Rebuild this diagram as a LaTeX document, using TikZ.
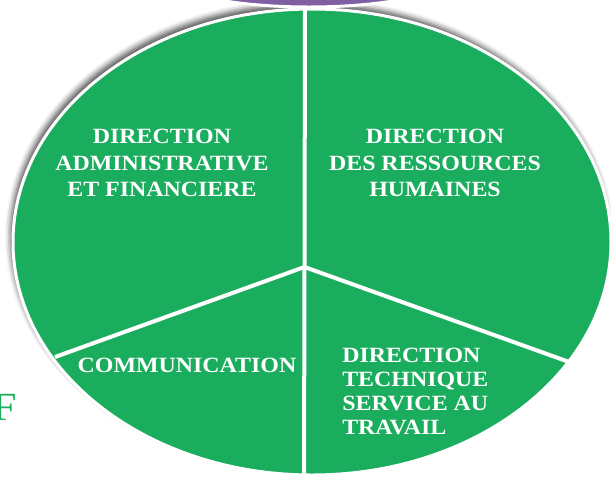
\documentclass[tikz,border=0pt]{standalone}
\usepackage{fontspec}
\setmainfont{Liberation Serif}[FakeStretch=1.1]
\usetikzlibrary{shadows.blur}
\definecolor{pieGreen}{RGB}{27,173,94}
\definecolor{capPurple}{RGB}{128,96,162}

\begin{document}
\begin{tikzpicture}[x=0.75pt,y=0.75pt,yscale=-1,xscale=1,
  sector/.style={text=white, font=\bfseries\fontsize{16.3}{20}\selectfont, inner sep=0.75pt, align=center},
  divider/.style={color=white, line width=3}]
\path [use as bounding box] (0,0) rectangle (611,476);

%Shape: Ellipse [id:pie]
\draw [color=white, fill=pieGreen, line width=2.25, blur shadow={shadow xshift=-2pt, shadow yshift=4pt, shadow opacity=65, shadow blur radius=4pt}] (312,242) ellipse (299 and 233);

% Dividers
\coordinate (hub) at (304.5,267);
\coordinate (topEnd) at (305,6);
\coordinate (bottomEnd) at (304,484);
\coordinate (leftEnd) at (55,357);
\coordinate (rightEnd) at (572,363);
\draw [divider] (topEnd) -- (hub) -- (bottomEnd);
\draw [divider] (leftEnd) -- (hub) -- (rightEnd);

%Shape: Ellipse [id:cap]
\draw [color=white, fill=capPurple, line width=2.25, blur shadow={shadow yshift=2pt, shadow opacity=40}] (309,-29) ellipse (152 and 36);

% Text Node
\draw (162,163) node (admin) [sector] {DIRECTION\\ADMINISTRATIVE\\ET FINANCIERE};
% Text Node
\draw (435,163) node (rh) [sector] {DIRECTION\\DES RESSOURCES\\HUMAINES};
% Text Node
\draw (187,365) node (comm) [sector] {COMMUNICATION};
% Text Node
\draw (341,391) node (tech) [sector, anchor=west, align=left, font=\bfseries\fontsize{16.3}{18}\selectfont] {DIRECTION\\TECHNIQUE\\SERVICE AU\\TRAVAIL};
% Text Node
\draw (-8,420) node (edgeF) [anchor=base west, inner sep=0pt, text=pieGreen, font=\fontsize{30}{30}\selectfont] {F};

\end{tikzpicture}
\end{document}
